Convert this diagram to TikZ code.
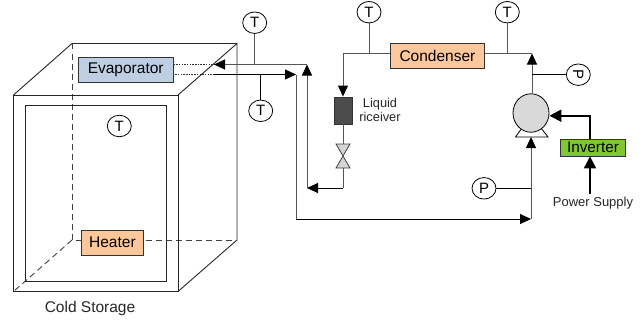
\documentclass[tikz,border=0pt]{standalone}
\usepackage{fontspec}
\setmainfont{Liberation Sans}
\usetikzlibrary{arrows.meta,shapes.geometric}
\definecolor{evapc}{RGB}{190,207,228}
\definecolor{orangec}{RGB}{252,200,155}
\definecolor{greenc}{RGB}{128,200,50}
\definecolor{pipec}{RGB}{85,85,85}
\tikzset{
  x=1pt,y=-1pt,
  wall/.style={draw=black!85,line width=0.9pt},
  hid/.style={draw=black!75,line width=0.9pt,dash pattern=on 6pt off 4pt},
  dots/.style={draw=black!80,line width=0.8pt,dash pattern=on 1.5pt off 1.2pt},
  pipe/.style={draw=pipec,line width=1pt},
  wire/.style={draw=black,line width=0.9pt},
  tipped/.style={-{Triangle[length=11pt,width=10pt,color=black,fill=black]}},
  heavy/.style={draw=black,line width=2pt,-{Triangle[length=12pt,width=12pt]}},
  unit/.style={draw=black!80,line width=0.9pt,inner sep=0pt,font=\fontsize{15.5}{17}\selectfont,anchor=north west},
  gauge/.style={ellipse,draw=black,line width=0.8pt,fill=white,minimum width=24pt,minimum height=21.5pt,inner sep=0pt,font=\fontsize{15}{16}\selectfont},
  caption/.style={inner sep=0pt,align=center,text=black!85},
}
\begin{document}
\begin{tikzpicture}
\useasboundingbox (0,0) rectangle (644,321);
% cube
\coordinate (ftl) at (13.5,95);
\coordinate (ftr) at (178,95);
\coordinate (fbr) at (178,291.5);
\coordinate (fbl) at (13.5,291.5);
\coordinate (btl) at (72,43.5);
\coordinate (btr) at (237,43.5);
\coordinate (bbr) at (237,240);
\coordinate (bbl) at (72,240);
\draw[hid] (btl) -- (bbl) -- (bbr);
\draw[hid] (bbl) -- (fbl);
\draw[wall] (ftl) rectangle (fbr);
\draw[wall] (25,105.5) rectangle (166,281);
\draw[wall] (ftl) -- (btl) -- (btr) -- (bbr) -- (fbr);
\draw[wall] (ftr) -- (btr);
% units
\node[unit,fill=evapc,minimum width=94.5pt,minimum height=25pt] (evap) at (78,57) {Evaporator};
\node[unit,fill=orangec,minimum width=62pt,minimum height=25.5pt] (heater) at (81,229.5) {Heater};
\node[unit,fill=orangec,minimum width=94pt,minimum height=24.5pt] (cond) at (390,43.3) {Condenser};
\node[unit,fill=greenc,minimum width=65pt,minimum height=17pt,font=\fontsize{15.3}{16}\selectfont] (inv) at (560,138.5) {Inverter};
\node[draw=black!80,fill=black!70,line width=0.9pt,minimum width=18pt,minimum height=27pt,inner sep=0pt] (recv) at (343,110.5) {};
% pump
\draw[draw=black,fill=white,line width=0.8pt] (515.5,137) -- (522,128) -- (541,128) -- (548,137) -- cycle;
\node[draw=black,fill=black!15,line width=0.8pt,ellipse,minimum width=36pt,minimum height=38.5pt,inner sep=0pt] (pump) at (531,113) {};
% valve
\coordinate (vtop) at (343,144);
\coordinate (vbot) at (343,168);
\draw[fill=black!17,draw=black!75,line width=0.8pt] (336,144) -- (350,144) -- (336,168) -- (350,168) -- cycle;
% gauges
\node[gauge] (t1) at (254.7,22.7) {T};
\node[gauge] (t2) at (260.7,110.8) {T};
\node[gauge] (t3) at (369,12.2) {T};
\node[gauge] (t4) at (507.3,12.2) {T};
\node[gauge] (t5) at (119.3,126) {T};
\node[gauge] (p1) at (578.3,74.7) {\rotatebox{-90}{P}};
\node[gauge] (p2) at (484,188.3) {P};
% junctions
\coordinate (a1) at (307,64.5);
\coordinate (a2) at (214,64.5);
\coordinate (b1) at (172.5,74.5);
\coordinate (b2) at (296,74.5);
\coordinate (c1) at (296,219);
\coordinate (c2) at (531,219);
\coordinate (d1) at (307,188);
\coordinate (d2) at (343,188);
\coordinate (e1) at (343,53.5);
\coordinate (f1) at (532,53.5);
\coordinate (j1) at (214,74.5);
% dotted
\draw[dots] (evap.east |- a2) -- (a2);
\draw[dots] (b1) -- (j1);
% pipes
\draw[pipe,tipped] (d1) -- (a1);
\draw[pipe,tipped] (a1) -- (a2);
\draw[wire,tipped] (d2) -- (d1);
\draw[wire,tipped] (j1) -- (b2);
\draw[pipe] (b2) -- (c1);
\draw[wire,tipped] (c1) -- (c2);
\draw[pipe,tipped] (c2) -- (531,137);
\draw[pipe,tipped] (cond.west |- e1) -- (e1) -- (recv.north);
\draw[pipe] (recv.south) -- (vtop);
\draw[pipe] (vbot) -- (d2);
\draw[pipe] (cond.east |- f1) -- (f1);
\draw[pipe,tipped] (pump.north -| f1) -- (f1);
% gauge lines
\draw[pipe] (t1) -- (t1 |- a1);
\draw[wire] (t2) -- (t2 |- b2);
\draw[pipe] (t3) -- (t3 |- e1);
\draw[pipe] (t4) -- (t4 |- f1);
\draw[wire] (p1) -- (f1 |- p1);
\draw[wire] (p2) -- (c2 |- p2);
% inverter
\node[caption,font=\fontsize{13}{14}\selectfont] (ps) at (593,203) {Power Supply};
\coordinate (g1) at (590,115.7);
\draw[heavy] (g1 |- inv.north) -- (g1) -- (pump.east |- g1);
\draw[heavy] (590,194) -- (g1 |- inv.south);
% labels
\node[caption,font=\fontsize{12.8}{14.5}\selectfont] (lr) at (380,110) {Liquid\\riceiver};
\node[caption,font=\fontsize{15.5}{17}\selectfont] (cs) at (90,308) {Cold Storage};
\end{tikzpicture}
\end{document}
